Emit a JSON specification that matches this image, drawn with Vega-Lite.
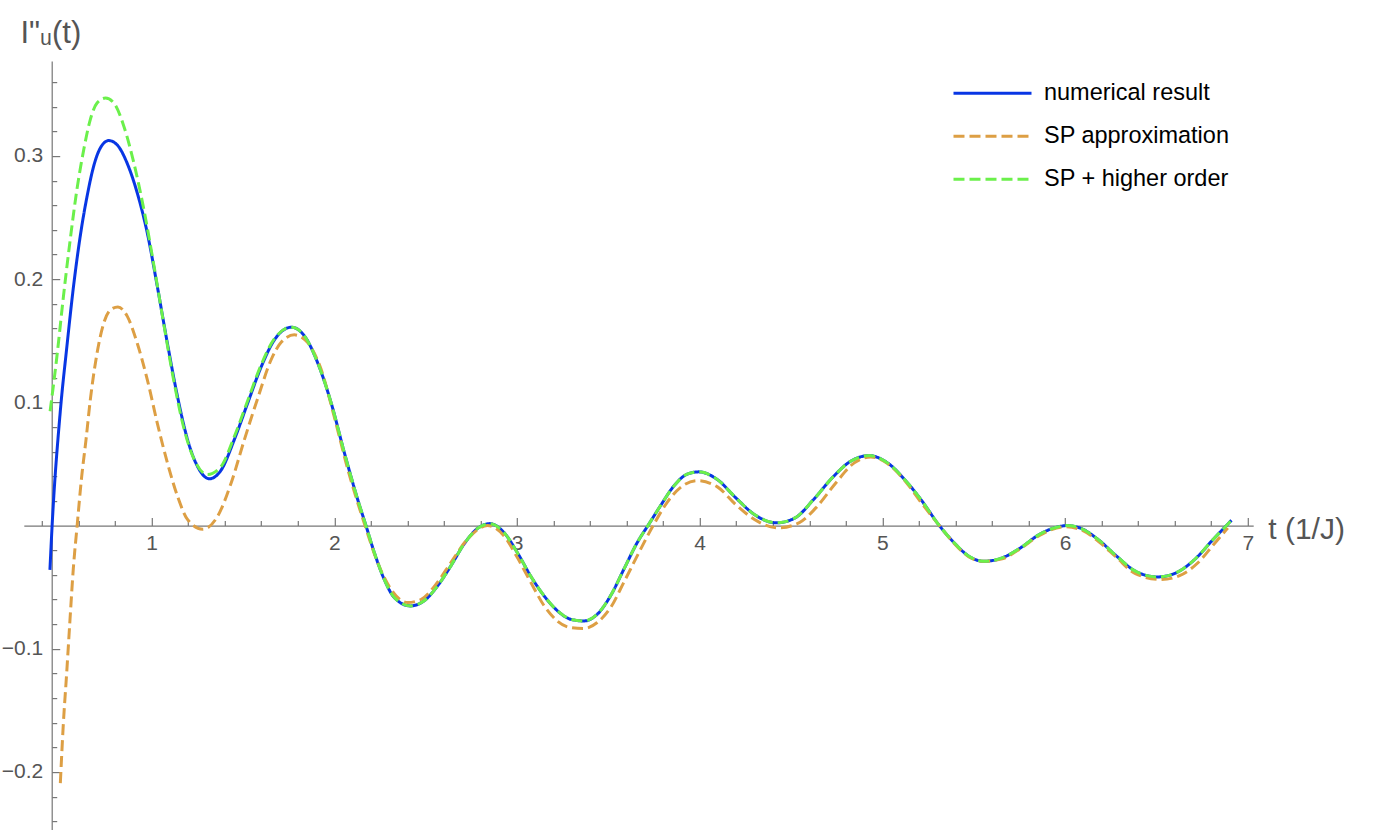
{
 "$schema": "https://vega.github.io/schema/vega-lite/v6.json",
 "width": 1229.4,
 "height": 772.5,
 "autosize": {"type": "none"},
 "padding": {"left": 23.8, "top": 61.1, "right": 126.8, "bottom": 0},
 "background": "white",
 "config": {
  "view": {"stroke": null},
  "font": "Liberation Sans",
  "legend": {
   "orient": "none", "legendX": 928.2, "legendY": 10.8, "padding": 0,
   "symbolType": "stroke", "symbolSize": 6084, "symbolStrokeWidth": 3,
   "labelFont": "Liberation Sans", "labelFontSize": 23.5, "labelColor": "#000000",
   "labelOffset": 11, "clipHeight": 42.6, "rowPadding": 0, "labelLimit": 400
  }
 },
 "data": {"values": [
  {"s":"numerical result","t":0.443,"v":-0.036},{"s":"numerical result","t":0.455,"v":0},{"s":"numerical result","t":0.499,"v":0.0915},{"s":"numerical result","t":0.536,"v":0.1456},{"s":"numerical result","t":0.572,"v":0.194},{"s":"numerical result","t":0.609,"v":0.235},{"s":"numerical result","t":0.646,"v":0.267},{"s":"numerical result","t":0.683,"v":0.292},{"s":"numerical result","t":0.719,"v":0.3065},{"s":"numerical result","t":0.765,"v":0.3125},{"s":"numerical result","t":0.811,"v":0.309},{"s":"numerical result","t":0.866,"v":0.294},{"s":"numerical result","t":0.921,"v":0.270},{"s":"numerical result","t":0.976,"v":0.2375},{"s":"numerical result","t":1.031,"v":0.194},{"s":"numerical result","t":1.086,"v":0.148},{"s":"numerical result","t":1.141,"v":0.105},{"s":"numerical result","t":1.196,"v":0.070},{"s":"numerical result","t":1.251,"v":0.048},{"s":"numerical result","t":1.316,"v":0.038},{"s":"numerical result","t":1.380,"v":0.045},{"s":"numerical result","t":1.453,"v":0.070},{"s":"numerical result","t":1.527,"v":0.100},{"s":"numerical result","t":1.600,"v":0.129},{"s":"numerical result","t":1.673,"v":0.151},{"s":"numerical result","t":1.765,"v":0.161},{"s":"numerical result","t":1.836,"v":0.154},{"s":"numerical result","t":1.909,"v":0.132},{"s":"numerical result","t":1.982,"v":0.0998},{"s":"numerical result","t":2.055,"v":0.059},{"s":"numerical result","t":2.128,"v":0.021},{"s":"numerical result","t":2.173,"v":0},{"s":"numerical result","t":2.219,"v":-0.022},{"s":"numerical result","t":2.273,"v":-0.0436},{"s":"numerical result","t":2.328,"v":-0.0584},{"s":"numerical result","t":2.415,"v":-0.0652},{"s":"numerical result","t":2.492,"v":-0.061},{"s":"numerical result","t":2.565,"v":-0.049},{"s":"numerical result","t":2.638,"v":-0.0327},{"s":"numerical result","t":2.710,"v":-0.015},{"s":"numerical result","t":2.783,"v":-0.0024},{"s":"numerical result","t":2.852,"v":0.0016},{"s":"numerical result","t":2.929,"v":-0.0057},{"s":"numerical result","t":3.002,"v":-0.022},{"s":"numerical result","t":3.075,"v":-0.041},{"s":"numerical result","t":3.148,"v":-0.057},{"s":"numerical result","t":3.220,"v":-0.069},{"s":"numerical result","t":3.293,"v":-0.076},{"s":"numerical result","t":3.366,"v":-0.0774},{"s":"numerical result","t":3.439,"v":-0.072},{"s":"numerical result","t":3.512,"v":-0.057},{"s":"numerical result","t":3.585,"v":-0.0354},{"s":"numerical result","t":3.658,"v":-0.0138},{"s":"numerical result","t":3.721,"v":0.001},{"s":"numerical result","t":3.785,"v":0.016},{"s":"numerical result","t":3.858,"v":0.032},{"s":"numerical result","t":3.931,"v":0.0417},{"s":"numerical result","t":3.995,"v":0.0436},{"s":"numerical result","t":4.097,"v":0.0373},{"s":"numerical result","t":4.198,"v":0.0225},{"s":"numerical result","t":4.300,"v":0.0089},{"s":"numerical result","t":4.421,"v":0.0022},{"s":"numerical result","t":4.522,"v":0.0062},{"s":"numerical result","t":4.623,"v":0.0211},{"s":"numerical result","t":4.725,"v":0.0387},{"s":"numerical result","t":4.826,"v":0.0522},{"s":"numerical result","t":4.927,"v":0.0568},{"s":"numerical result","t":5.028,"v":0.0509},{"s":"numerical result","t":5.130,"v":0.036},{"s":"numerical result","t":5.211,"v":0.0211},{"s":"numerical result","t":5.312,"v":0},{"s":"numerical result","t":5.393,"v":-0.014},{"s":"numerical result","t":5.474,"v":-0.0249},{"s":"numerical result","t":5.555,"v":-0.029},{"s":"numerical result","t":5.656,"v":-0.0262},{"s":"numerical result","t":5.757,"v":-0.018},{"s":"numerical result","t":5.858,"v":-0.0073},{"s":"numerical result","t":5.960,"v":-0.0011},{"s":"numerical result","t":6.010,"v":0},{"s":"numerical result","t":6.081,"v":-0.0019},{"s":"numerical result","t":6.182,"v":-0.0114},{"s":"numerical result","t":6.283,"v":-0.0249},{"s":"numerical result","t":6.385,"v":-0.037},{"s":"numerical result","t":6.506,"v":-0.0417},{"s":"numerical result","t":6.607,"v":-0.0384},{"s":"numerical result","t":6.709,"v":-0.0276},{"s":"numerical result","t":6.810,"v":-0.0114},{"s":"numerical result","t":6.911,"v":0.0043},
  {"s":"SP approximation","t":0.500,"v":-0.209},{"s":"SP approximation","t":0.516,"v":-0.162},{"s":"SP approximation","t":0.535,"v":-0.119},{"s":"SP approximation","t":0.553,"v":-0.076},{"s":"SP approximation","t":0.571,"v":-0.035},{"s":"SP approximation","t":0.592,"v":0},{"s":"SP approximation","t":0.617,"v":0.040},{"s":"SP approximation","t":0.640,"v":0.069},{"s":"SP approximation","t":0.664,"v":0.102},{"s":"SP approximation","t":0.701,"v":0.140},{"s":"SP approximation","t":0.738,"v":0.1645},{"s":"SP approximation","t":0.774,"v":0.175},{"s":"SP approximation","t":0.815,"v":0.1775},{"s":"SP approximation","t":0.866,"v":0.170},{"s":"SP approximation","t":0.921,"v":0.148},{"s":"SP approximation","t":0.976,"v":0.1185},{"s":"SP approximation","t":1.031,"v":0.083},{"s":"SP approximation","t":1.086,"v":0.051},{"s":"SP approximation","t":1.141,"v":0.024},{"s":"SP approximation","t":1.196,"v":0.005},{"s":"SP approximation","t":1.279,"v":-0.003},{"s":"SP approximation","t":1.361,"v":0.0076},{"s":"SP approximation","t":1.435,"v":0.0346},{"s":"SP approximation","t":1.508,"v":0.070},{"s":"SP approximation","t":1.582,"v":0.104},{"s":"SP approximation","t":1.655,"v":0.135},{"s":"SP approximation","t":1.710,"v":0.149},{"s":"SP approximation","t":1.781,"v":0.1548},{"s":"SP approximation","t":1.854,"v":0.1485},{"s":"SP approximation","t":1.927,"v":0.127},{"s":"SP approximation","t":2.000,"v":0.088},{"s":"SP approximation","t":2.073,"v":0.046},{"s":"SP approximation","t":2.168,"v":0},{"s":"SP approximation","t":2.237,"v":-0.030},{"s":"SP approximation","t":2.310,"v":-0.0517},{"s":"SP approximation","t":2.401,"v":-0.0625},{"s":"SP approximation","t":2.474,"v":-0.060},{"s":"SP approximation","t":2.565,"v":-0.046},{"s":"SP approximation","t":2.638,"v":-0.030},{"s":"SP approximation","t":2.729,"v":-0.011},{"s":"SP approximation","t":2.838,"v":0.000},{"s":"SP approximation","t":2.929,"v":-0.0084},{"s":"SP approximation","t":3.002,"v":-0.026},{"s":"SP approximation","t":3.075,"v":-0.046},{"s":"SP approximation","t":3.148,"v":-0.065},{"s":"SP approximation","t":3.220,"v":-0.0774},{"s":"SP approximation","t":3.293,"v":-0.0828},{"s":"SP approximation","t":3.366,"v":-0.0836},{"s":"SP approximation","t":3.439,"v":-0.0787},{"s":"SP approximation","t":3.512,"v":-0.0666},{"s":"SP approximation","t":3.585,"v":-0.046},{"s":"SP approximation","t":3.658,"v":-0.0246},{"s":"SP approximation","t":3.749,"v":0.001},{"s":"SP approximation","t":3.821,"v":0.0187},{"s":"SP approximation","t":3.894,"v":0.0308},{"s":"SP approximation","t":3.986,"v":0.0365},{"s":"SP approximation","t":4.097,"v":0.0314},{"s":"SP approximation","t":4.198,"v":0.017},{"s":"SP approximation","t":4.300,"v":0.0049},{"s":"SP approximation","t":4.431,"v":-0.0019},{"s":"SP approximation","t":4.543,"v":0.0022},{"s":"SP approximation","t":4.644,"v":0.0157},{"s":"SP approximation","t":4.745,"v":0.0346},{"s":"SP approximation","t":4.846,"v":0.0509},{"s":"SP approximation","t":4.937,"v":0.0557},{"s":"SP approximation","t":5.028,"v":0.0503},{"s":"SP approximation","t":5.130,"v":0.0352},{"s":"SP approximation","t":5.211,"v":0.019},{"s":"SP approximation","t":5.312,"v":0},{"s":"SP approximation","t":5.393,"v":-0.0145},{"s":"SP approximation","t":5.474,"v":-0.0254},{"s":"SP approximation","t":5.555,"v":-0.029},{"s":"SP approximation","t":5.656,"v":-0.027},{"s":"SP approximation","t":5.757,"v":-0.0185},{"s":"SP approximation","t":5.858,"v":-0.0081},{"s":"SP approximation","t":6.000,"v":-0.001},{"s":"SP approximation","t":6.081,"v":-0.003},{"s":"SP approximation","t":6.182,"v":-0.0127},{"s":"SP approximation","t":6.283,"v":-0.026},{"s":"SP approximation","t":6.385,"v":-0.039},{"s":"SP approximation","t":6.526,"v":-0.0438},{"s":"SP approximation","t":6.627,"v":-0.0406},{"s":"SP approximation","t":6.729,"v":-0.030},{"s":"SP approximation","t":6.810,"v":-0.016},{"s":"SP approximation","t":6.891,"v":-0.0019},
  {"s":"SP + higher order","t":0.444,"v":0.0928},{"s":"SP + higher order","t":0.481,"v":0.137},{"s":"SP + higher order","t":0.517,"v":0.186},{"s":"SP + higher order","t":0.554,"v":0.232},{"s":"SP + higher order","t":0.591,"v":0.273},{"s":"SP + higher order","t":0.628,"v":0.305},{"s":"SP + higher order","t":0.664,"v":0.3295},{"s":"SP + higher order","t":0.701,"v":0.343},{"s":"SP + higher order","t":0.747,"v":0.347},{"s":"SP + higher order","t":0.793,"v":0.343},{"s":"SP + higher order","t":0.848,"v":0.324},{"s":"SP + higher order","t":0.903,"v":0.294},{"s":"SP + higher order","t":0.958,"v":0.256},{"s":"SP + higher order","t":1.013,"v":0.2105},{"s":"SP + higher order","t":1.068,"v":0.162},{"s":"SP + higher order","t":1.123,"v":0.116},{"s":"SP + higher order","t":1.178,"v":0.078},{"s":"SP + higher order","t":1.233,"v":0.0536},{"s":"SP + higher order","t":1.306,"v":0.0414},{"s":"SP + higher order","t":1.380,"v":0.048},{"s":"SP + higher order","t":1.453,"v":0.0725},{"s":"SP + higher order","t":1.527,"v":0.102},{"s":"SP + higher order","t":1.600,"v":0.1307},{"s":"SP + higher order","t":1.673,"v":0.152},{"s":"SP + higher order","t":1.765,"v":0.161},{"s":"SP + higher order","t":1.836,"v":0.154},{"s":"SP + higher order","t":1.909,"v":0.132},{"s":"SP + higher order","t":1.982,"v":0.0998},{"s":"SP + higher order","t":2.055,"v":0.059},{"s":"SP + higher order","t":2.128,"v":0.021},{"s":"SP + higher order","t":2.173,"v":0},{"s":"SP + higher order","t":2.219,"v":-0.022},{"s":"SP + higher order","t":2.273,"v":-0.0436},{"s":"SP + higher order","t":2.328,"v":-0.0584},{"s":"SP + higher order","t":2.415,"v":-0.0652},{"s":"SP + higher order","t":2.492,"v":-0.061},{"s":"SP + higher order","t":2.565,"v":-0.049},{"s":"SP + higher order","t":2.638,"v":-0.0327},{"s":"SP + higher order","t":2.710,"v":-0.015},{"s":"SP + higher order","t":2.783,"v":-0.0024},{"s":"SP + higher order","t":2.852,"v":0.0016},{"s":"SP + higher order","t":2.929,"v":-0.0057},{"s":"SP + higher order","t":3.002,"v":-0.022},{"s":"SP + higher order","t":3.075,"v":-0.041},{"s":"SP + higher order","t":3.148,"v":-0.057},{"s":"SP + higher order","t":3.220,"v":-0.069},{"s":"SP + higher order","t":3.293,"v":-0.076},{"s":"SP + higher order","t":3.366,"v":-0.0774},{"s":"SP + higher order","t":3.439,"v":-0.072},{"s":"SP + higher order","t":3.512,"v":-0.057},{"s":"SP + higher order","t":3.585,"v":-0.0354},{"s":"SP + higher order","t":3.658,"v":-0.0138},{"s":"SP + higher order","t":3.721,"v":0.001},{"s":"SP + higher order","t":3.785,"v":0.016},{"s":"SP + higher order","t":3.858,"v":0.032},{"s":"SP + higher order","t":3.931,"v":0.0417},{"s":"SP + higher order","t":3.995,"v":0.0436},{"s":"SP + higher order","t":4.097,"v":0.0373},{"s":"SP + higher order","t":4.198,"v":0.0225},{"s":"SP + higher order","t":4.300,"v":0.0089},{"s":"SP + higher order","t":4.421,"v":0.0022},{"s":"SP + higher order","t":4.522,"v":0.0062},{"s":"SP + higher order","t":4.623,"v":0.0211},{"s":"SP + higher order","t":4.725,"v":0.0387},{"s":"SP + higher order","t":4.826,"v":0.0522},{"s":"SP + higher order","t":4.927,"v":0.0568},{"s":"SP + higher order","t":5.028,"v":0.0509},{"s":"SP + higher order","t":5.130,"v":0.036},{"s":"SP + higher order","t":5.211,"v":0.0211},{"s":"SP + higher order","t":5.312,"v":0},{"s":"SP + higher order","t":5.393,"v":-0.014},{"s":"SP + higher order","t":5.474,"v":-0.0249},{"s":"SP + higher order","t":5.555,"v":-0.029},{"s":"SP + higher order","t":5.656,"v":-0.0262},{"s":"SP + higher order","t":5.757,"v":-0.018},{"s":"SP + higher order","t":5.858,"v":-0.0073},{"s":"SP + higher order","t":5.960,"v":-0.0011},{"s":"SP + higher order","t":6.010,"v":0},{"s":"SP + higher order","t":6.081,"v":-0.0019},{"s":"SP + higher order","t":6.182,"v":-0.0114},{"s":"SP + higher order","t":6.283,"v":-0.0249},{"s":"SP + higher order","t":6.385,"v":-0.037},{"s":"SP + higher order","t":6.506,"v":-0.0417},{"s":"SP + higher order","t":6.607,"v":-0.0384},{"s":"SP + higher order","t":6.709,"v":-0.0276},{"s":"SP + higher order","t":6.810,"v":-0.0114},{"s":"SP + higher order","t":6.911,"v":0.0043}
 ]},
 "mark": {"type": "line", "strokeWidth": 3, "interpolate": "monotone", "clip": true},
 "encoding": {
  "x": {
   "field": "t", "type": "quantitative",
   "scale": {"domain": [0.3, 7.03], "nice": false, "zero": false},
   "axis": {
    "orient": "bottom", "offset": -308,
    "values": [0.4,0.6,0.8,1,1.2,1.4,1.6,1.8,2,2.2,2.4,2.6,2.8,3,3.2,3.4,3.6,3.8,4,4.2,4.4,4.6,4.8,5,5.2,5.4,5.6,5.8,6,6.2,6.4,6.6,6.8,7],
    "labelExpr": "datum.value % 1 === 0 ? format(datum.value, 'd') : ''",
    "tickSize": {"condition": {"test": "datum.value % 1 === 0", "value": -8}, "value": -5},
    "grid": false, "domainColor": "#777777", "tickColor": "#777777", "domainWidth": 1.2, "tickWidth": 1.2,
    "labelFont": "Liberation Sans", "labelFontSize": 21, "labelColor": "#555555", "labelPadding": 15,
    "labelOverlap": false, "labelFlush": false,
    "title": "t (1/J)", "titleFont": "Liberation Sans", "titleFontSize": 30, "titleFontWeight": "normal", "titleColor": "#555555",
    "titleX": 1244, "titleY": 4, "titleAlign": "left", "titleBaseline": "middle", "titleAngle": 0
   }
  },
  "y": {
   "field": "v", "type": "quantitative",
   "scale": {"domain": [-0.25, 0.377], "nice": false, "zero": false},
   "axis": {
    "orient": "left", "offset": -27.9,
    "values": [-0.24,-0.22,-0.2,-0.18,-0.16,-0.14,-0.12,-0.1,-0.08,-0.06,-0.04,-0.02,0.02,0.04,0.06,0.08,0.1,0.12,0.14,0.16,0.18,0.2,0.22,0.24,0.26,0.28,0.3,0.32,0.34,0.36],
    "labelExpr": "indexof([-0.2,-0.1,0.1,0.2,0.3], datum.value) >= 0 ? format(datum.value, '.1f') : ''",
    "tickSize": {"condition": {"test": "indexof([-0.2,-0.1,0.1,0.2,0.3], datum.value) >= 0", "value": -8}, "value": -5},
    "grid": false, "domainColor": "#777777", "tickColor": "#777777", "domainWidth": 1.2, "tickWidth": 1.2,
    "labelFont": "Liberation Sans", "labelFontSize": 21, "labelColor": "#555555", "labelPadding": 17,
    "labelOverlap": false, "labelFlush": false,
    "title": "I\"ᵤ(t)", "titleFont": "Liberation Sans", "titleFontSize": 31, "titleFontWeight": "normal", "titleColor": "#555555",
    "titleX": -31.7, "titleY": -18.5, "titleAlign": "left", "titleBaseline": "alphabetic", "titleAngle": 0
   }
  },
  "color": {
   "field": "s", "type": "nominal",
   "scale": {"domain": ["numerical result", "SP approximation", "SP + higher order"], "range": ["#0836e4", "#dd9f44", "#6bf04b"]},
   "legend": {"title": null}
  },
  "strokeDash": {
   "field": "s", "type": "nominal",
   "scale": {"domain": ["numerical result", "SP approximation", "SP + higher order"], "range": [[1, 0], [11, 5], [11, 5]]},
   "legend": {"title": null}
  }
 }
}
